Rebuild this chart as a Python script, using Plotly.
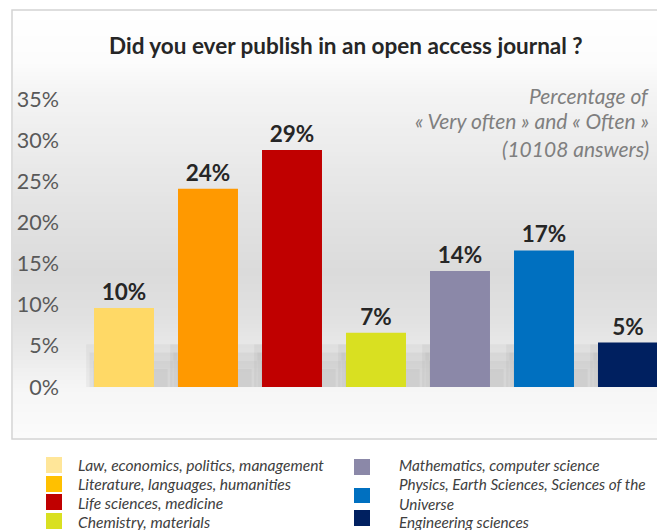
import plotly.graph_objects as go

# ---------------- data ----------------
categories = [
    "Law, economics, politics, management",
    "Literature, languages, humanities",
    "Life sciences, medicine",
    "Chemistry, materials",
    "Mathematics, computer science",
    "Physics, Earth Sciences, Sciences of the Universe",
    "Engineering sciences",
]
values = [9.6, 24.1, 28.8, 6.6, 14.1, 16.6, 5.4]
bar_colors = ["#FFD966", "#FF9900", "#C00000", "#D9E021", "#8B88A8", "#0070C0", "#002060"]
legend_colors = ["#FFE699", "#FFC000", "#C00000", "#D9E021", "#8B88A8", "#0070C0", "#002060"]
legend_labels = [
    "Law, economics, politics, management",
    "Literature, languages, humanities",
    "Life sciences, medicine",
    "Chemistry, materials",
    "Mathematics, computer science",
    "Physics, Earth Sciences, Sciences of the<br>Universe",
    "Engineering sciences",
]
y_ticks = [0, 5, 10, 15, 20, 25, 30, 35]
title_text = "Did you ever publish in an open access journal ?"
note_lines = ["Percentage of", "« Very often » and « Often »", "(10108 answers)"]

# ---------------- layout geometry ----------------
W, H = 657, 530
L, R, T, B = 82, 0, 99, 143
PW, PH = W - L - R, H - T - B

def px_x(px):
    return (px - L) / PW

def px_y(py):
    return (H - B - py) / PH

FONT = "Lato"

fig = go.Figure()
fig.add_trace(go.Bar(
    x=categories,
    y=values,
    marker=dict(color=bar_colors, line=dict(width=0)),
    text=[f"{round(v):.0f}%" for v in values],
    textposition="outside",
    textfont=dict(family=FONT, size=22.5, color="#262626", weight="bold"),
    cliponaxis=False,
    showlegend=False,
    hoverinfo="skip",
))

shapes = []
# frame background
shapes.append(dict(type="rect", xref="paper", yref="paper",
                   x0=px_x(12), x1=px_x(700), y0=px_y(439), y1=px_y(10),
                   fillcolor="#ffffff", line=dict(color="#d4d4d4", width=1.5), layer="below"))

# vertical gradient (decoration)
stops = [(12, 255), (60, 252), (100, 243), (200, 228), (270, 219), (320, 225),
         (360, 236), (388, 246), (439, 251)]
def shade(py):
    for (a, ca), (b, cb) in zip(stops[:-1], stops[1:]):
        if a <= py <= b:
            return ca + (cb - ca) * (py - a) / (b - a)
    return 251
step = 4
py = 12
while py < 438:
    c = int(round(shade(py + step / 2)))
    shapes.append(dict(type="rect", xref="paper", yref="paper",
                       x0=px_x(13), x1=px_x(699), y0=px_y(min(py + step, 438)), y1=px_y(py),
                       fillcolor=f"rgb({c},{c},{c})", line=dict(width=0), layer="below"))
    py += step

# soft floor shadows near bar bases (decoration)
for i in range(len(values)):
    for k in range(4):
        shapes.append(dict(type="rect", xref="x", yref="y",
                           x0=i - 0.45 + k * 0.04, x1=i + 0.70 - k * 0.06, y0=0, y1=5.2 - k * 1.0,
                           fillcolor="rgba(130,130,130,0.09)", line=dict(width=0), layer="below"))

# legend squares + labels
sq_rows_left = [(457, 473), (476, 492), (494, 510), (513, 529)]
sq_rows_right = [(459, 475), (488, 503), (510, 526)]
text_y_left = [465, 484, 503, 522]
text_y_right = [465, 493.5, 522]
annotations = []
for j in range(4):
    y0, y1 = sq_rows_left[j]
    shapes.append(dict(type="rect", xref="paper", yref="paper",
                       x0=px_x(46), x1=px_x(62), y0=px_y(y1), y1=px_y(y0),
                       fillcolor=legend_colors[j], line=dict(width=0)))
    annotations.append(dict(text=legend_labels[j], xref="paper", yref="paper",
                            x=px_x(76), y=px_y(text_y_left[j]), xanchor="left", yanchor="middle",
                            showarrow=False, align="left",
                            font=dict(family=FONT, size=15.6, color="#404040", style="italic")))
for j in range(3):
    idx = 4 + j
    y0, y1 = sq_rows_right[j]
    shapes.append(dict(type="rect", xref="paper", yref="paper",
                       x0=px_x(354), x1=px_x(370), y0=px_y(y1), y1=px_y(y0),
                       fillcolor=legend_colors[idx], line=dict(width=0)))
    annotations.append(dict(text=legend_labels[idx], xref="paper", yref="paper",
                            x=px_x(397), y=px_y(text_y_right[j]), xanchor="left", yanchor="middle",
                            showarrow=False, align="left",
                            font=dict(family=FONT, size=15.3, color="#404040", style="italic")))

annotations.append(dict(text=f"<b>{title_text}</b>", xref="paper", yref="paper",
                        x=px_x(346), y=px_y(45), xanchor="center", yanchor="middle",
                        showarrow=False, font=dict(family=FONT, size=22.5, color="#262626")))
for line, yc in zip(note_lines, [95, 121, 148]):
    annotations.append(dict(text=line, xref="paper", yref="paper",
                            x=px_x(651), y=px_y(yc), xanchor="right", yanchor="middle",
                            showarrow=False, align="right",
                            font=dict(family=FONT, size=21, color="#7f7f7f", style="italic")))

fig.update_layout(
    width=W, height=H,
    margin=dict(l=L, r=R, t=T, b=B, pad=0),
    paper_bgcolor="#ffffff",
    plot_bgcolor="rgba(0,0,0,0)",
    bargap=0.286,
    shapes=shapes,
    annotations=annotations,
    showlegend=False,
    xaxis=dict(range=[-0.5, -0.5 + PW / 84], showticklabels=False, showgrid=False,
               zeroline=False, showline=False, ticks=""),
    yaxis=dict(range=[0, 35], tickvals=y_ticks, ticktext=[f"{t}%" for t in y_ticks],
               showgrid=False, zeroline=False, showline=False, ticks="",
               ticklabelstandoff=22,
               tickfont=dict(family=FONT, size=21.5, color="#595959")),
)

fig.write_html("out.html", config={"displayModeBar": False},
               post_script="document.body.style.margin='0px';")
